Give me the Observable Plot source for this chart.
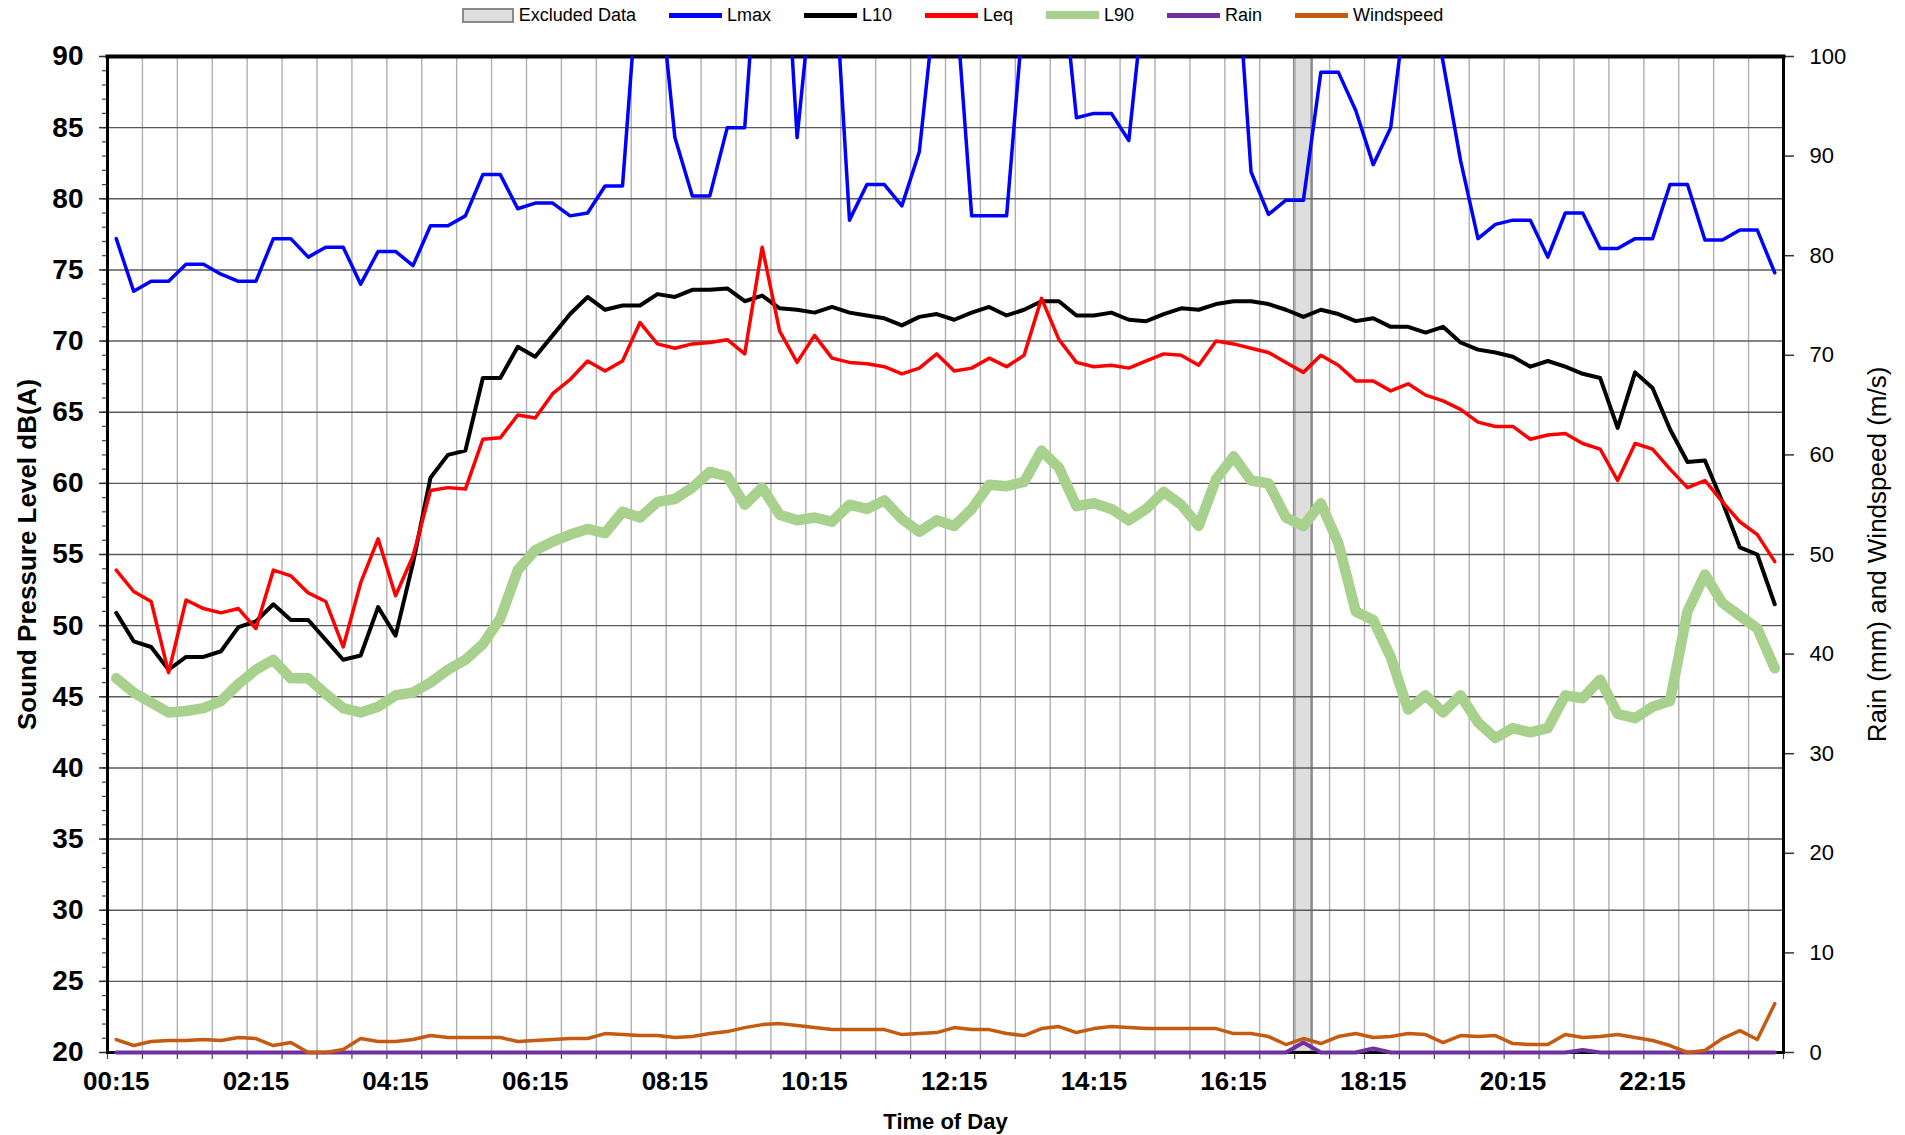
<!DOCTYPE html>
<html><head><meta charset="utf-8">
<script src="https://cdn.jsdelivr.net/npm/d3@7"></script>
<script src="https://cdn.jsdelivr.net/npm/@observablehq/plot@0.6"></script>
<style>
body{margin:0;background:#fff;font-family:"Liberation Sans",Arial,sans-serif;}
#legend{height:30px;display:flex;justify-content:center;align-items:center;gap:33px;font-size:18px;color:#000;}
.item{display:flex;align-items:center;gap:5px;white-space:nowrap}
.sw{width:53px;height:5px}
.box{width:48px;height:11px;background:#dedede;border:2px solid #8a8a8a}
</style></head><body>
<div id="legend"></div>
<div id="chart"></div>
<script>
const times = ["00:15","00:30","00:45","01:00","01:15","01:30","01:45","02:00","02:15","02:30","02:45","03:00",
"03:15","03:30","03:45","04:00","04:15","04:30","04:45","05:00","05:15","05:30","05:45","06:00",
"06:15","06:30","06:45","07:00","07:15","07:30","07:45","08:00","08:15","08:30","08:45","09:00",
"09:15","09:30","09:45","10:00","10:15","10:30","10:45","11:00","11:15","11:30","11:45","12:00",
"12:15","12:30","12:45","13:00","13:15","13:30","13:45","14:00","14:15","14:30","14:45","15:00",
"15:15","15:30","15:45","16:00","16:15","16:30","16:45","17:00","17:15","17:30","17:45","18:00",
"18:15","18:30","18:45","19:00","19:15","19:30","19:45","20:00","20:15","20:30","20:45","21:00",
"21:15","21:30","21:45","22:00","22:15","22:30","22:45","23:00","23:15","23:30","23:45","24:00"];

const lmax = [77.2,73.5,74.2,74.2,75.4,75.4,74.7,74.2,74.2,77.2,77.2,75.9,
76.6,76.6,74.0,76.3,76.3,75.3,78.1,78.1,78.8,81.7,81.7,79.3,
79.7,79.7,78.8,79.0,80.9,80.9,97.2,96.4,84.3,80.2,80.2,85.0,
85.0,102,105,84.3,96.4,99.0,78.5,81.0,81.0,79.5,83.3,94.8,
95.5,78.8,78.8,78.8,93.6,98.0,97.8,85.7,86.0,86.0,84.1,95.7,
100,100,100,100,99.8,81.9,78.9,79.9,79.9,88.9,88.9,86.2,
82.4,85.0,94.8,96.0,89.6,82.7,77.2,78.2,78.5,78.5,75.9,79.0,
79.0,76.5,76.5,77.2,77.2,81.0,81.0,77.1,77.1,77.8,77.8,74.8];

const l10 = [50.9,48.9,48.5,46.9,47.8,47.8,48.2,49.9,50.3,51.5,50.4,50.4,
49.0,47.6,47.9,51.3,49.3,54.4,60.4,62.0,62.3,67.4,67.4,69.6,
68.9,70.4,71.9,73.1,72.2,72.5,72.5,73.3,73.1,73.6,73.6,73.7,
72.8,73.2,72.3,72.2,72.0,72.4,72.0,71.8,71.6,71.1,71.7,71.9,
71.5,72.0,72.4,71.8,72.2,72.8,72.8,71.8,71.8,72.0,71.5,71.4,
71.9,72.3,72.2,72.6,72.8,72.8,72.6,72.2,71.7,72.2,71.9,71.4,
71.6,71.0,71.0,70.6,71.0,69.9,69.4,69.2,68.9,68.2,68.6,68.2,
67.7,67.4,63.9,67.8,66.7,63.8,61.5,61.6,58.7,55.5,55.0,51.5];

const leq = [53.9,52.4,51.7,46.7,51.8,51.2,50.9,51.2,49.8,53.9,53.5,52.3,
51.7,48.5,53.0,56.1,52.1,54.9,59.5,59.7,59.6,63.1,63.2,64.8,
64.6,66.3,67.3,68.6,67.9,68.6,71.3,69.8,69.5,69.8,69.9,70.1,
69.1,76.6,70.7,68.5,70.4,68.8,68.5,68.4,68.2,67.7,68.1,69.1,
67.9,68.1,68.8,68.2,69.0,73.0,70.1,68.5,68.2,68.3,68.1,68.6,
69.1,69.0,68.3,70.0,69.8,69.5,69.2,68.5,67.8,69.0,68.3,67.2,
67.2,66.5,67.0,66.2,65.8,65.2,64.3,64.0,64.0,63.1,63.4,63.5,
62.8,62.4,60.2,62.8,62.4,61.0,59.7,60.2,58.7,57.3,56.4,54.5];

const l90 = [46.3,45.3,44.6,43.9,44.0,44.2,44.7,45.9,46.9,47.6,46.3,46.3,
45.2,44.2,43.9,44.3,45.1,45.3,46.0,46.9,47.6,48.7,50.5,53.9,
55.3,55.9,56.4,56.8,56.5,58.0,57.6,58.7,58.9,59.7,60.8,60.5,
58.5,59.7,57.8,57.4,57.6,57.3,58.5,58.2,58.8,57.5,56.6,57.4,
57.0,58.2,59.9,59.8,60.1,62.3,61.1,58.4,58.6,58.2,57.4,58.2,
59.4,58.5,57.0,60.3,61.9,60.2,60.0,57.6,57.0,58.6,55.8,51.0,
50.4,47.8,44.1,45.1,43.9,45.1,43.2,42.1,42.8,42.5,42.8,45.1,
44.9,46.2,43.8,43.5,44.3,44.7,51.0,53.6,51.6,50.7,49.8,47.0];

const rain = [0,0,0,0,0,0,0,0,0,0,0,0,
0,0,0,0,0,0,0,0,0,0,0,0,
0,0,0,0,0,0,0,0,0,0,0,0,
0,0,0,0,0,0,0,0,0,0,0,0,
0,0,0,0,0,0,0,0,0,0,0,0,
0,0,0,0,0,0,0,0,1.0,0,0,0,
0.4,0,0,0,0,0,0,0,0,0,0,0,
0.25,0,0,0,0,0,0,0,0,0,0,0];

const wind = [1.3,0.7,1.1,1.2,1.2,1.3,1.2,1.5,1.4,0.7,1.0,0.0,
0.0,0.3,1.4,1.1,1.1,1.3,1.7,1.5,1.5,1.5,1.5,1.1,
1.2,1.3,1.4,1.4,1.9,1.8,1.7,1.7,1.5,1.6,1.9,2.1,
2.5,2.8,2.9,2.7,2.5,2.3,2.3,2.3,2.3,1.8,1.9,2.0,
2.5,2.3,2.3,1.9,1.7,2.4,2.6,2.0,2.4,2.6,2.5,2.4,
2.4,2.4,2.4,2.4,1.9,1.9,1.6,0.8,1.4,0.9,1.6,1.9,
1.5,1.6,1.9,1.8,1.0,1.7,1.6,1.7,0.9,0.8,0.8,1.8,
1.5,1.6,1.8,1.5,1.2,0.7,0.0,0.2,1.4,2.2,1.3,4.9];

const excludedTimes = ["17:15"];
const xTickLabels = ["00:15","02:15","04:15","06:15","08:15","10:15","12:15","14:15","16:15","18:15","20:15","22:15"];
const leftTicks = [20,25,30,35,40,45,50,55,60,65,70,75,80,85,90];
const rightTicks = [0,10,20,30,40,50,60,70,80,90,100];

const seriesStyle = [
  {key:"Lmax", color:"#0000ff", w:3.5},
  {key:"L10", color:"#000000", w:4},
  {key:"Leq", color:"#ff0000", w:3.5},
  {key:"L90", color:"#a9d18e", w:10.5},
  {key:"Rain", color:"#7030a0", w:4},
  {key:"Windspeed", color:"#c55a11", w:3.5}
];

// legend
const leg = document.getElementById("legend");
leg.innerHTML = `<div class="item"><div class="box"></div><span>Excluded Data</span></div>` +
  seriesStyle.map(s => `<div class="item"><div class="sw" style="background:${s.color};height:${s.key==="L90"?8:5}px"></div><span>${s.key}</span></div>`).join("");

const toMin = s => +s.slice(0,2)*60 + +s.slice(3);
const half = (toMin(times[1]) - toMin(times[0])) / 2;
const rows = times.map((t,i) => ({t: toMin(t), lmax: lmax[i], l10: l10[i], leq: leq[i], l90: l90[i], rain: rain[i], wind: wind[i]}));
const x0 = toMin(times[0]) - half, x1 = toMin(times[times.length-1]) + half;
const gridX = times.filter((t,i) => i % 2 === 0).map(t => toMin(t) - half).concat([x1]);
const minorY = d3.range(leftTicks[0], leftTicks[leftTicks.length-1] + 1, 1);
// right axis (0..100) mapped onto left scale (20..90)
const rMin = leftTicks[0], rScale = (leftTicks[leftTicks.length-1] - leftTicks[0]) / rightTicks[rightTicks.length-1];
const toLeft = v => rMin + v * rScale;
const sw = k => seriesStyle.find(s => s.key === k);

const F = "Liberation Sans, Arial, sans-serif";
const chart = Plot.plot({
  width: 1905, height: 1105,
  marginTop: 26, marginBottom: 83, marginLeft: 107, marginRight: 122,
  x: {type: "linear", domain: [x0, x1], axis: null},
  y: {domain: [leftTicks[0], leftTicks[leftTicks.length-1]], axis: null},
  style: {fontFamily: F, background: "white", color: "black", overflow: "visible"},
  marks: [
    Plot.rect(excludedTimes, {x1: d => toMin(d) - half, x2: d => toMin(d) + half, y1: leftTicks[0], y2: leftTicks[leftTicks.length-1], fill: "#dedede", stroke: "#8a8a8a", strokeWidth: 2.5}),
    Plot.ruleX(gridX, {stroke: "#b0b0b0", strokeWidth: 1.4}),
    Plot.ruleY(leftTicks, {stroke: "#5a5a5a", strokeWidth: 1.4}),
    // left axis
    Plot.axisY({ticks: minorY, tickSize: 5, tickFormat: () => "", stroke: "#444", strokeWidth: 1.2, label: null}),
    Plot.axisY({ticks: leftTicks, tickSize: 8, tickPadding: 16, fontSize: 28, fontWeight: "bold", stroke: "#333", strokeWidth: 1.5, label: null}),
    // right axis
    Plot.axisY({anchor: "right", ticks: rightTicks.map(toLeft), tickFormat: d => String(Math.round((d - rMin) / rScale)), tickSize: 10, tickPadding: 16, fontSize: 22, stroke: "#333", strokeWidth: 1.5, label: null}),
    // bottom axis
    Plot.axisX({ticks: gridX, tickSize: 7, tickFormat: () => "", stroke: "#444", strokeWidth: 1.2, label: null}),
    Plot.axisX({ticks: xTickLabels.map(toMin), tickFormat: d => xTickLabels[xTickLabels.map(toMin).indexOf(d)], tickSize: 0, tickPadding: 19, fontSize: 26, fontWeight: "bold", label: null}),
    Plot.frame({stroke: "black", strokeWidth: 3}),
    Plot.frame({anchor: "top", stroke: "black", strokeWidth: 4}),
    // series
    Plot.line(rows, {x: "t", y: "lmax", stroke: sw("Lmax").color, strokeWidth: sw("Lmax").w, clip: true}),
    Plot.line(rows, {x: "t", y: "l10", stroke: sw("L10").color, strokeWidth: sw("L10").w, clip: true}),
    Plot.line(rows, {x: "t", y: "leq", stroke: sw("Leq").color, strokeWidth: sw("Leq").w, clip: true}),
    Plot.line(rows, {x: "t", y: "l90", stroke: sw("L90").color, strokeWidth: sw("L90").w, clip: true}),
    Plot.line(rows, {x: "t", y: d => toLeft(d.rain), stroke: sw("Rain").color, strokeWidth: sw("Rain").w}),
    Plot.line(rows, {x: "t", y: d => toLeft(d.wind), stroke: sw("Windspeed").color, strokeWidth: sw("Windspeed").w}),
    // titles
    Plot.text(["Sound Pressure Level dB(A)"], {frameAnchor: "left", dx: -80, rotate: -90, fontSize: 26, fontWeight: "bold", textAnchor: "middle"}),
    Plot.text(["Rain (mm) and Windspeed (m/s)"], {frameAnchor: "right", dx: 94, rotate: -90, fontSize: 26, textAnchor: "middle"}),
    Plot.text(["Time of Day"], {frameAnchor: "bottom", dy: 76, fontSize: 22, fontWeight: "bold", textAnchor: "middle"})
  ]
});
document.getElementById("chart").appendChild(chart);
</script>
</body></html>
